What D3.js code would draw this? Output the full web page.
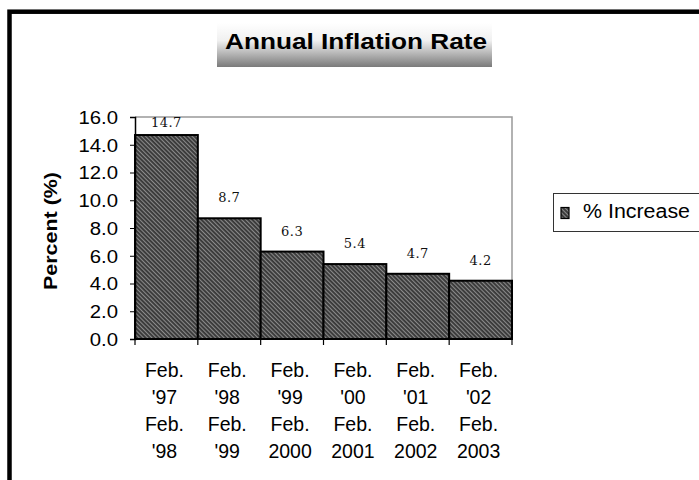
<!DOCTYPE html>
<html>
<head>
<meta charset="utf-8">
<script src="https://cdn.jsdelivr.net/npm/d3@7"></script>
<style>
  body { margin: 0; background: #fff; }
  svg { display: block; }
  text { font-family: "Liberation Sans", Arial, sans-serif; }
</style>
</head>
<body>
<div id="chartDiv"></div>
<script>
// chart data
const periods = [
    ["Feb.", "'97", "Feb.", "'98"],
    ["Feb.", "'98", "Feb.", "'99"],
    ["Feb.", "'99", "Feb.", "2000"],
    ["Feb.", "'00", "Feb.", "2001"],
    ["Feb.", "'01", "Feb.", "2002"],
    ["Feb.", "'02", "Feb.", "2003"]
];
const increase = [14.7, 8.7, 6.3, 5.4, 4.7, 4.2];
const yTicks = [0, 2, 4, 6, 8, 10, 12, 14, 16];
const seriesName = "% Increase";
const chartTitle = "Annual Inflation Rate";
const yTitle = "Percent (%)";

const width = 699, height = 480;
const margin = { top: 117, right: 187, bottom: 141, left: 135 };

let svg = d3.select("#chartDiv").append("svg")
    .attr("width", width)
    .attr("height", height);

// hatched fill
let defs = svg.append("defs");
let pat = defs.append("pattern")
    .attr("id", "hatch")
    .attr("patternUnits", "userSpaceOnUse")
    .attr("width", 3)
    .attr("height", 3)
    .attr("patternTransform", "rotate(-45)");
pat.append("rect").attr("width", 3).attr("height", 3).attr("fill", "#383838");
pat.append("rect").attr("width", 1.1).attr("height", 3).attr("fill", "#8a8a8a");

let grad = defs.append("linearGradient")
    .attr("id", "titleGrad")
    .attr("x1", 0).attr("y1", 0).attr("x2", 0).attr("y2", 1);
grad.append("stop").attr("offset", "0%").attr("stop-color", "#ffffff");
grad.append("stop").attr("offset", "40%").attr("stop-color", "#f0f0f0");
grad.append("stop").attr("offset", "100%").attr("stop-color", "#7a7a7a");

// outer frame
svg.append("rect")
    .attr("x", 9.5).attr("y", 11.7)
    .attr("width", 760).attr("height", 520)
    .attr("fill", "none")
    .attr("stroke", "#000")
    .attr("stroke-width", 4.5);

let x = d3.scaleBand()
    .domain(d3.range(periods.length))
    .range([margin.left, width - margin.right])
    .padding(0);

let y = d3.scaleLinear()
    .domain([0, 16])
    .range([height - margin.bottom, margin.top]);

// plot area border (top and right)
svg.append("path")
    .attr("d", `M${margin.left},${y(16)}H${width - margin.right}V${y(0)}`)
    .attr("fill", "none")
    .attr("stroke", "#999")
    .attr("stroke-width", 1.5);

// bars
svg.selectAll("rect.bar")
    .data(increase)
    .enter()
    .append("rect")
    .attr("class", "bar")
    .attr("x", (d, i) => x(i))
    .attr("width", x.bandwidth())
    .attr("y", d => y(d))
    .attr("height", d => y(0) - y(d))
    .attr("fill", "url(#hatch)")
    .attr("stroke", "#000")
    .attr("stroke-width", 2);

// value labels
svg.selectAll("text.valueLabel")
    .data(increase)
    .enter()
    .append("text")
    .attr("class", "valueLabel")
    .attr("x", (d, i) => x(i) + x.bandwidth() / 2)
    .attr("y", d => Math.max(y(d) - 16, margin.top + 10))
    .attr("text-anchor", "middle")
    .style("font-family", "'DejaVu Serif', 'Liberation Serif', serif")
    .style("font-size", "13px")
    .style("letter-spacing", "0.5px")
    .attr("fill", "#111")
    .text(d => d3.format(".1f")(d));

// y axis
let yAxis = d3.axisLeft(y)
    .tickValues(yTicks)
    .tickSize(5)
    .tickPadding(12)
    .tickFormat(d3.format(".1f"));

let gy = svg.append("g")
    .attr("transform", `translate(${margin.left},0)`)
    .call(yAxis);
gy.select(".domain").attr("stroke", "#000").attr("stroke-width", 1.5);
gy.selectAll(".tick line").attr("stroke", "#000");
gy.selectAll(".tick text")
    .style("font-family", "'Liberation Sans', Arial, sans-serif")
    .style("font-size", "18px")
    .attr("fill", "#000")
    .attr("dy", "0.36em")
    .each(function () {
        d3.select(this).attr("textLength", this.getComputedTextLength() * 1.13)
            .attr("lengthAdjust", "spacingAndGlyphs");
    });

// x axis: ticks at bar boundaries
let boundaries = d3.range(periods.length + 1).map(i => i < periods.length ? x(i) : x(i - 1) + x.bandwidth());
let gx = svg.append("g");
gx.append("line")
    .attr("x1", margin.left).attr("x2", width - margin.right)
    .attr("y1", y(0)).attr("y2", y(0))
    .attr("stroke", "#000").attr("stroke-width", 1.5);
gx.selectAll("line.tick")
    .data(boundaries)
    .enter()
    .append("line")
    .attr("class", "tick")
    .attr("x1", d => d).attr("x2", d => d)
    .attr("y1", y(0)).attr("y2", y(0) + 6)
    .attr("stroke", "#000").attr("stroke-width", 1.2);

// x category labels
let catG = svg.selectAll("g.cat")
    .data(periods)
    .enter()
    .append("g")
    .attr("class", "cat")
    .attr("transform", (d, i) => `translate(${x(i) + x.bandwidth() / 2 - 2},${y(0) + 38})`);
catG.selectAll("text")
    .data(d => d)
    .enter()
    .append("text")
    .attr("y", (d, j) => j * 27)
    .attr("text-anchor", "middle")
    .style("font-size", "19.5px")
    .attr("fill", "#000")
    .text(d => d);

// y axis title
svg.append("text")
    .attr("transform", `translate(57,${(y(0) + y(16)) / 2 + 3}) rotate(-90)`)
    .attr("text-anchor", "middle")
    .style("font-weight", "bold")
    .style("font-size", "19px")
    .attr("textLength", 118)
    .attr("lengthAdjust", "spacingAndGlyphs")
    .text(yTitle);

// title box
svg.append("rect")
    .attr("x", 217).attr("y", 23)
    .attr("width", 275).attr("height", 44)
    .attr("fill", "url(#titleGrad)");
svg.append("text")
    .attr("x", 356).attr("y", 49)
    .attr("text-anchor", "middle")
    .style("font-weight", "bold")
    .style("font-size", "21.5px")
    .attr("textLength", 262)
    .attr("lengthAdjust", "spacingAndGlyphs")
    .text(chartTitle);

// legend
let legend = svg.append("g");
legend.append("rect")
    .attr("x", 553.5).attr("y", 193.5)
    .attr("width", 200).attr("height", 38)
    .attr("fill", "#fff")
    .attr("stroke", "#333")
    .attr("stroke-width", 1);
legend.append("rect")
    .attr("x", 561).attr("y", 207.5)
    .attr("width", 8).attr("height", 11)
    .attr("fill", "url(#hatch)")
    .attr("stroke", "#000")
    .attr("stroke-width", 1.2);
legend.append("text")
    .attr("x", 583).attr("y", 218)
    .style("font-size", "19.5px")
    .attr("textLength", 107)
    .attr("lengthAdjust", "spacingAndGlyphs")
    .text(seriesName);
</script>
</body>
</html>
